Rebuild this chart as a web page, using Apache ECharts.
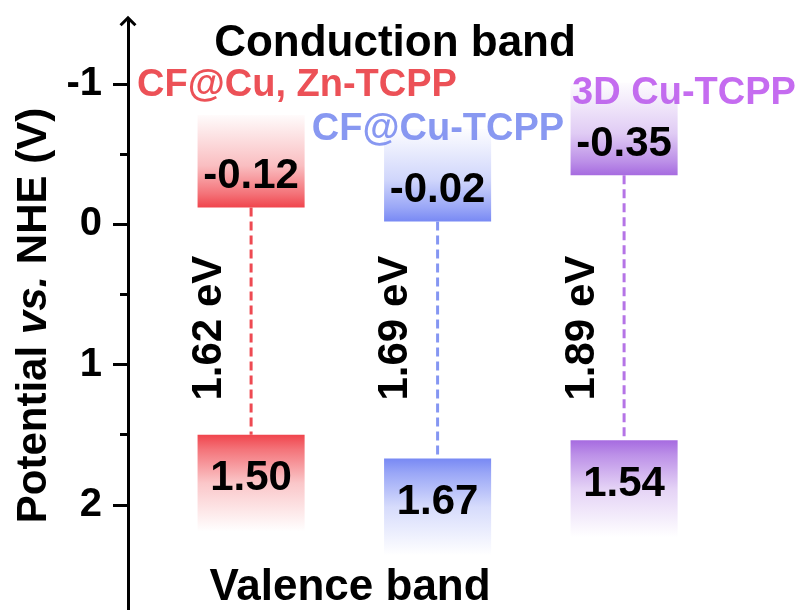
<!DOCTYPE html>
<html>
<head>
<meta charset="utf-8">
<script src="https://cdn.jsdelivr.net/npm/echarts@6/dist/echarts.min.js"></script>
<style>
  html, body { margin: 0; background: #fff; }
  #chart { width: 805px; height: 610px; }
</style>
</head>
<body>
<div id="chart"></div>
<script>
// Band-edge potentials (V vs. NHE) of the three porphyrin frameworks
var materials = ['CF@Cu, Zn-TCPP', 'CF@Cu-TCPP', '3D Cu-TCPP'];
var slots = [1, 2, 3];
var conductionBand = [-0.12, -0.02, -0.35];
var valenceBand = [1.50, 1.67, 1.54];
var majorTicks = [-1, 0, 1, 2];
var minorTicks = [-0.5, 0.5, 1.5];

var FONT = '"Liberation Sans", Arial, Helvetica, sans-serif';
var boxColors = ['#f0444c', '#7889f4', '#a66be0'];
var lineColors = ['#ee4a52', '#8596f2', '#b574e6'];
var nameColors = ['#ec5157', '#8898f1', '#c56cf0'];
var nameLayout = [[297, 86], [438, 130], [684, 94]];

function rgba(hex, a) {
  var n = parseInt(hex.slice(1), 16);
  return 'rgba(' + ((n >> 16) & 255) + ',' + ((n >> 8) & 255) + ',' + (n & 255) + ',' + a + ')';
}

// Each item draws a conduction-band block, a valence-band block,
// the dashed gap line between them and the value / gap labels.
function renderBands(params, api) {
  var i = params.dataIndex;
  var x = api.value(0), cb = api.value(1), vb = api.value(2);
  var half = 0.287, cbDepth = 0.66, vbDepth = 0.69;
  var c = boxColors[i];
  var cbTL = api.coord([x - half, cb - cbDepth]);
  var cbBR = api.coord([x + half, cb]);
  var vbTL = api.coord([x - half, vb]);
  var vbBR = api.coord([x + half, vb + vbDepth]);
  var gapPos = api.coord([x, 0.74]);
  var cx = api.coord([x, cb])[0];

  var cbFill = new echarts.graphic.LinearGradient(0, 0, 0, 1, [
    { offset: 0, color: rgba(c, 0.02) },
    { offset: 0.55, color: rgba(c, 0.35) },
    { offset: 0.85, color: rgba(c, 0.75) },
    { offset: 1, color: rgba(c, 1) }
  ]);
  var vbFill = new echarts.graphic.LinearGradient(0, 0, 0, 1, [
    { offset: 0, color: rgba(c, 1) },
    { offset: 0.15, color: rgba(c, 0.75) },
    { offset: 0.5, color: rgba(c, 0.3) },
    { offset: 1, color: rgba(c, 0) }
  ]);
  var valueFont = 'bold 42px ' + FONT;

  return {
    type: 'group',
    children: [
      { type: 'rect', shape: { x: cbTL[0], y: cbTL[1], width: cbBR[0] - cbTL[0], height: cbBR[1] - cbTL[1] }, style: { fill: cbFill } },
      { type: 'rect', shape: { x: vbTL[0], y: vbTL[1], width: vbBR[0] - vbTL[0], height: vbBR[1] - vbTL[1] }, style: { fill: vbFill } },
      { type: 'line', shape: { x1: cx, y1: cbBR[1], x2: cx, y2: vbTL[1] }, style: { stroke: lineColors[i], lineWidth: 3, lineDash: [9, 5] } },
      { type: 'text', x: cx, y: cbBR[1] - 31, style: { text: cb.toFixed(2), font: valueFont, fill: '#000', align: 'center', verticalAlign: 'middle' } },
      { type: 'text', x: cx, y: vbTL[1] + 44, style: { text: vb.toFixed(2), font: valueFont, fill: '#000', align: 'center', verticalAlign: 'middle' } },
      { type: 'text', x: cx - 42, y: gapPos[1], rotation: Math.PI / 2, style: { text: (vb - cb).toFixed(2) + ' eV', font: valueFont, fill: '#000', align: 'center', verticalAlign: 'middle' } }
    ]
  };
}

var chart = echarts.init(document.getElementById('chart'), null, { renderer: 'canvas' });

var yRange = { min: -1.45, max: 2.75 };
var arrowPath = 'path://M0,10L10,0L20,10L17.5,12.5L10,5L2.5,12.5Z';

var graphics = [
  { type: 'text', x: 395, y: 44, style: { text: 'Conduction band', font: 'bold 44px ' + FONT, fill: '#000', align: 'center', verticalAlign: 'middle' } },
  { type: 'text', x: 350, y: 588, style: { text: 'Valence band', font: 'bold 44px ' + FONT, fill: '#000', align: 'center', verticalAlign: 'middle' } }
];
materials.forEach(function (name, i) {
  graphics.push({ type: 'text', x: nameLayout[i][0], y: nameLayout[i][1], style: { text: name, font: 'bold 38px ' + FONT, fill: nameColors[i], align: 'center', verticalAlign: 'middle' } });
});

chart.setOption({
  animation: false,
  backgroundColor: '#fff',
  grid: { left: 128, right: 0, top: 21, bottom: -3, containLabel: false },
  xAxis: { type: 'value', min: 0.34, max: 3.97, show: false },
  yAxis: [
    {
      type: 'value', inverse: true, min: yRange.min, max: yRange.max, position: 'left',
      name: '{a|Potential }{b|vs.}{a| NHE (V)}', nameLocation: 'middle', nameRotate: 90, nameGap: 68,
      nameTextStyle: {
        rich: {
          a: { fontFamily: FONT, fontWeight: 'bold', fontSize: 42, color: '#000' },
          b: { fontFamily: FONT, fontWeight: 'bold', fontStyle: 'italic', fontSize: 42, color: '#000' }
        }
      },
      axisLine: { show: true, lineStyle: { color: '#000', width: 3 }, symbol: ['none', arrowPath], symbolSize: [17, 11] },
      axisTick: { show: true, inside: false, length: 15, lineStyle: { color: '#000', width: 3 }, customValues: majorTicks },
      axisLabel: { show: true, margin: 26, customValues: majorTicks, fontFamily: FONT, fontWeight: 'bold', fontSize: 40, color: '#000', formatter: function (v) { return String(v); } },
      splitLine: { show: false }
    },
    {
      type: 'value', inverse: true, min: yRange.min, max: yRange.max, position: 'left',
      axisLine: { show: false },
      axisTick: { show: true, inside: false, length: 8, lineStyle: { color: '#000', width: 3 }, customValues: minorTicks },
      axisLabel: { show: false },
      splitLine: { show: false }
    }
  ],
  series: [{
    type: 'custom',
    renderItem: renderBands,
    clip: false,
    encode: { x: 0, y: [1, 2] },
    data: slots.map(function (s, i) { return [s, conductionBand[i], valenceBand[i]]; })
  }],
  graphic: graphics
});
</script>
</body>
</html>
